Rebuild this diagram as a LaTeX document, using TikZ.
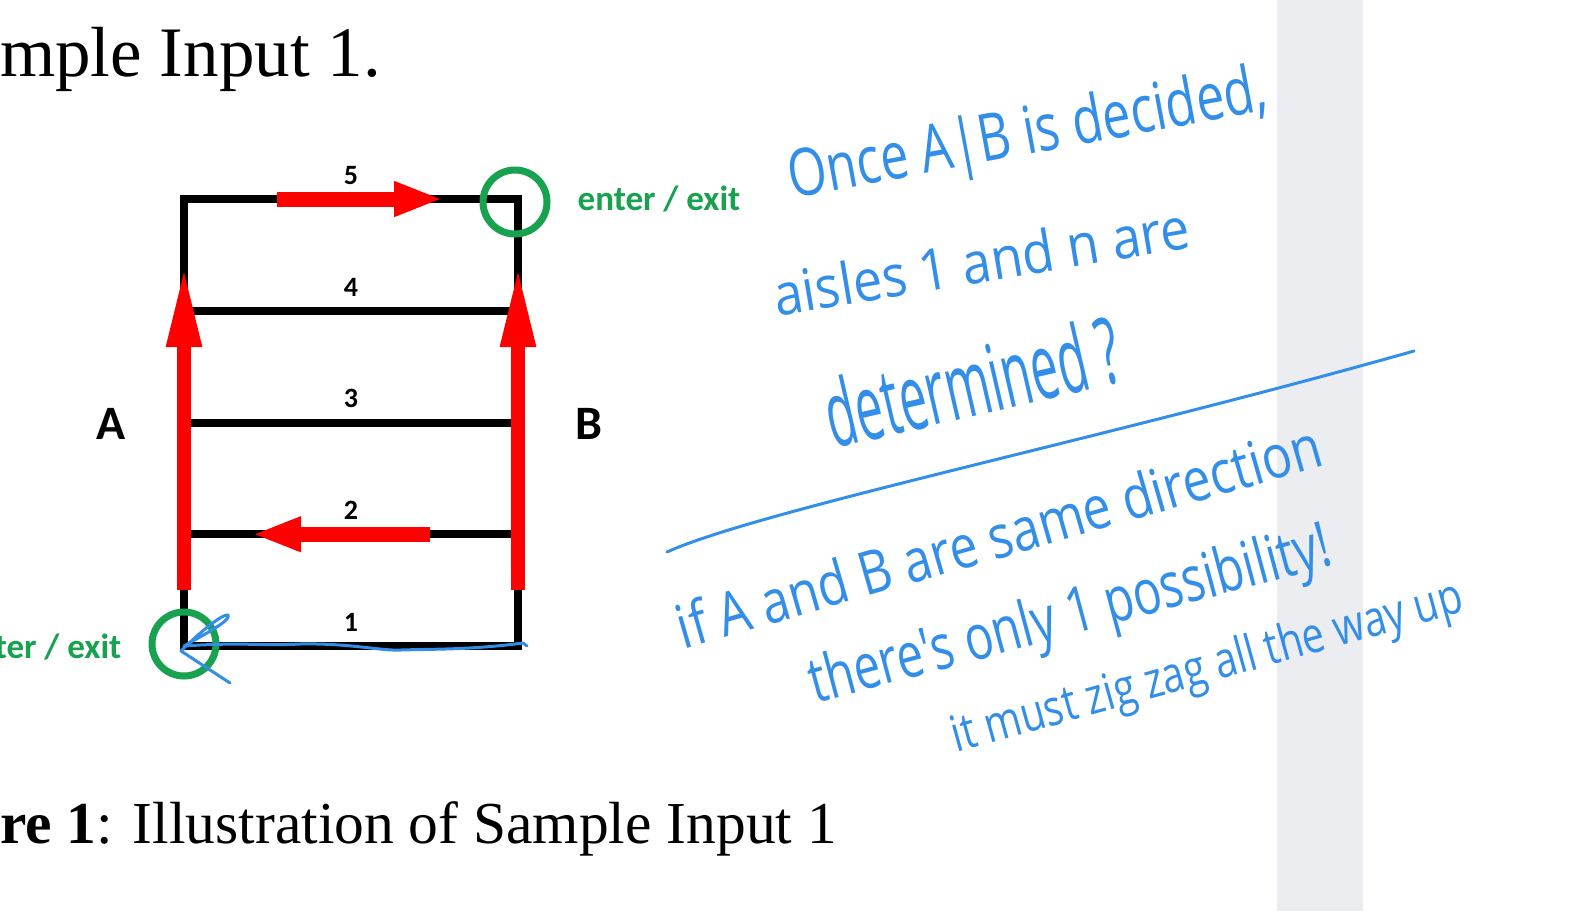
\documentclass[tikz,border=0pt]{standalone}
\usepackage{fontspec}
\setmainfont{Liberation Serif}
\newfontfamily\calibrifont{Carlito}
\newfontfamily\inkfont{Open Sans}
\usetikzlibrary{positioning,arrows.meta}

\definecolor{exitgreen}{RGB}{24,161,78}
\definecolor{inkblue}{RGB}{50,142,232}
\definecolor{bandgrey}{RGB}{236,237,241}

% hand-written notes: width and height of the line, then the words
\newcommand{\inkline}[3]{\resizebox{#1pt}{#2pt}{#3}}

\begin{document}
\begin{tikzpicture}[
  x=1pt, y=-1pt,
  rail/.style={line width=8pt, black},
  flow/.style={red, line width=15pt, -{Triangle[length=49pt, width=32pt]}},
  climb/.style={red, line width=14pt, -{Triangle[length=82pt, width=32pt]}},
  exitring/.style={circle, draw=exitgreen, line width=7pt, minimum size=64pt, inner sep=0pt},
  exitlabel/.style={font=\calibrifont\bfseries\fontsize{35}{40}\selectfont, text=exitgreen, inner sep=0pt},
  aisle/.style={font=\calibrifont\bfseries\fontsize{28}{32}\selectfont, inner sep=0pt},
  side/.style={font=\calibrifont\bfseries\fontsize{48}{54}\selectfont, inner sep=0pt},
  page/.style={font=\fontsize{71}{80}\selectfont, inner sep=0pt, anchor=base west},
  ink/.style={text=inkblue, font=\inkfont, inner sep=0pt, anchor=base},
  pen/.style={inkblue, line width=3pt, line cap=round, line join=round}
]
\useasboundingbox (0,0) rectangle (1595,911);
\fill[bandgrey] (1277,0) rectangle (1363,911);

% page text around the figure
\node[page] (bodyline) at (0,76) {mple Input 1.};
\node[page, font=\fontsize{59.5}{70}\selectfont] (caption) at (0,843) {\textbf{re 1}: Illustration of Sample Input 1};

% aisles 1..5 between the two sides
\foreach \i/\y in {1/646,2/534.25,3/422.5,4/310.75,5/199} {
  \coordinate (L\i) at (184,\y);
  \coordinate (R\i) at (518,\y);
  \coordinate (M\i) at (351,\y);
}
\draw[rail] (L5) -- (L1) -- (R1) -- (R5) -- cycle;
\foreach \i in {2,3,4} \draw[rail] (L\i) -- (R\i);
\foreach \i in {1,...,5} \node[aisle, above=14.5pt of M\i] (num\i) {\i};

% sides
\coordinate (midA) at (184,424);
\coordinate (midB) at (518,424);
\node[side, left=58pt of midA] (sideA) {A};
\node[side, right=57pt of midB] (sideB) {B};

% one-way directions
\coordinate (Abase) at (184,590);
\coordinate (Atip) at (184,265);
\coordinate (Bbase) at (518,590);
\coordinate (Btip) at (518,265);
\coordinate (topbase) at (277,199);
\coordinate (toptip) at (443,199);
\coordinate (twobase) at (430,534.25);
\coordinate (twotip) at (252,534.25);
\draw[climb] (Abase) -- (Atip);
\draw[climb] (Bbase) -- (Btip);
\draw[flow] (topbase) -- (toptip);
\draw[flow] (twobase) -- (twotip);

% entrances
\node[exitring] (topexit) at (515,202) {};
\node[exitring] (botexit) at (184,644) {};
\node[exitlabel, right=27pt of topexit, yshift=3pt] (topexitlabel) {enter / exit};
\node[exitlabel, left=27pt of botexit, yshift=-3pt] (botexitlabel) {ter / exit};

% ink on top
\draw[pen] (230,683) -- (181,651) .. controls (200,632) and (222,614) .. (228,615)
  .. controls (232,620) and (205,634) .. (184,646)
  .. controls (240,642) and (262,646) .. (300,644)
  .. controls (350,643) and (380,651) .. (401,650)
  .. controls (430,649) and (470,650) .. (523,643) -- (527,646);
\draw[pen] (667,552) .. controls (760,510) and (1100,440) .. (1414,351);

\node[ink, rotate=10.5] (note1) at (1031,154) {\inkline{486}{50}{Once A|B is decided,}};
\node[ink, rotate=9.5] (note2) at (985,282) {\inkline{421}{44}{aisles 1 and n are}};
\node[ink, rotate=13] (note3) at (980,415) {\inkline{300}{70}{determined ?}};
\node[ink, rotate=16] (note4) at (1005,557) {\inkline{668}{46}{if A and B are same direction}};
\node[ink, rotate=15] (note5) at (1075,634) {\inkline{538}{48}{there's only 1 possibility!}};
\node[ink, rotate=15.5] (note6) at (1211,682) {\inkline{528}{38}{it must zig zag all the way up}};
\end{tikzpicture}
\end{document}
